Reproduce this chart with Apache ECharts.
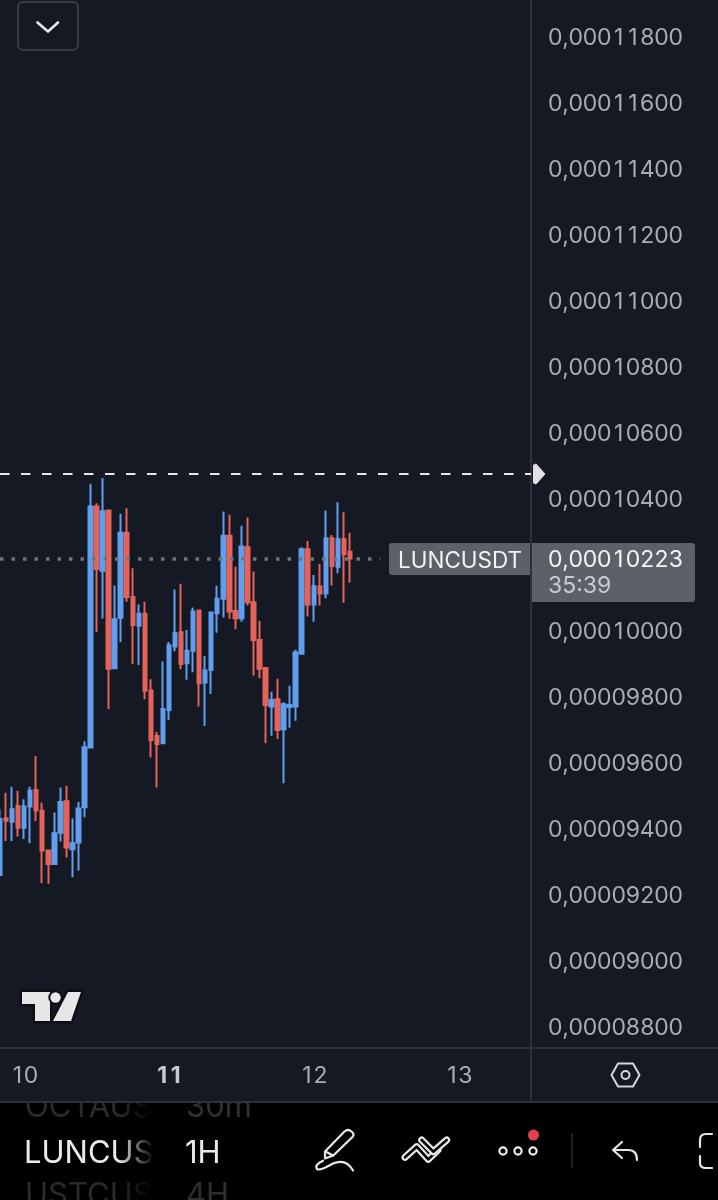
<!DOCTYPE html>
<html><head><meta charset="utf-8">
<style>html,body{margin:0;padding:0;background:#151924;overflow:hidden}#c{width:718px;height:1200px}</style>
<script src="https://cdn.jsdelivr.net/npm/echarts@6/dist/echarts.min.js"></script>
</head><body><div id="c"></div>
<script>
// prices in units of 0.00000001 USDT
var opens=[9264,9436,9425,9473,9407,9471,9521,9458,9338,9297,9392,9487,9342,9362,9469,9650,10380,10186,10368,9890,10043,10301,10106,10019,10055,9823,9685,9663,9764,9956,9999,9905,9943,10065,9847,9885,10057,10101,10292,10064,10042,10257,10090,9976,9891,9774,9796,9705,9773,9774,9934,10251,10083,10138,10117,10284,10198,10281,10243];
var closes=[9433,9428,9463,9407,9471,9519,9459,9338,9297,9390,9485,9347,9360,9465,9651,10380,10191,10366,9889,10039,10301,10106,10021,10055,9822,9673,9661,9767,9960,9996,9903,9943,10062,9845,9883,10059,10101,10292,10062,10042,10259,10090,9976,9889,9779,9794,9703,9781,9779,9938,10251,10083,10139,10117,10284,10200,10281,10236,10223];
var lows=[9260,9367,9367,9380,9373,9360,9427,9239,9237,9297,9365,9317,9257,9277,9439,9650,10000,10041,9767,9890,9970,10092,9903,9900,9796,9620,9529,9663,9733,9942,9887,9855,9878,9774,9715,9812,9998,10044,10040,10008,10031,10080,9868,9860,9663,9686,9676,9542,9710,9731,9934,10047,10031,10080,10102,10141,10178,10089,10149];
var highs=[9463,9513,9531,9519,9493,9531,9624,9483,9338,9453,9529,9534,9435,9485,9669,10449,10390,10467,10368,10141,10358,10375,10193,10083,10092,9857,9698,9911,9970,10129,10146,10006,10074,10067,9927,10060,10140,10365,10355,10198,10322,10347,10183,10034,9891,9819,9858,9787,9837,9946,10257,10276,10173,10206,10368,10294,10393,10363,10301];
var priceTicks=[11800,11600,11400,11200,11000,10800,10600,10400,10200,10000,9800,9600,9400,9200,9000,8800];
var dayLabels=['10','11','12','13'];
var dayIndexes=[4,28,52,76];
var currentPrice=10223;
var highLine=10479;

var BG='#151924',BLUE='#619fee',RED='#e4635b',GRID='#2c303b',TXT='#a8acb6',TAG='#5d6068';
var FONT='Inter, "Noto Sans", sans-serif';
var cats=[];
for(var i=0;i<89;i++){var k=dayIndexes.indexOf(i);cats.push(k>=0?dayLabels[k]:'');}
var candles=opens.map(function(o,i){return [o,closes[i],lows[i],highs[i]];});
function fmt(v){return '0,'+String(Math.round(v)).padStart(8,'0');}
function tab(s,d,c){return s.split('').map(function(ch){return ch===','?'{'+c+'|,}':'{'+d+'|'+ch+'}';}).join('');}
function digitRich(size,color,w,cw){return {
 d:{fontFamily:FONT,fontSize:size,color:color,fill:color,width:w,align:'center'},
 c:{fontFamily:FONT,fontSize:size,color:color,fill:color,width:cw,align:'center'}};}

function line(x1,y1,x2,y2,c,w){return {type:'line',shape:{x1:x1,y1:y1,x2:x2,y2:y2},style:{stroke:c,lineWidth:w||2},silent:true,z:50};}
function txt(t,x,y,size,c,z){return {type:'text',x:x,y:y,z:z||60,silent:true,style:{text:t,font:size+'px '+FONT,fill:c,verticalAlign:'middle'}};}
var pathCount=0;
function path(d,c,w,z){var name='iconPath'+(pathCount++);
 echarts.graphic.registerShape(name,echarts.graphic.extendPath(d,{}));
 return {type:name,z:z||70,silent:true,style:{stroke:c,lineWidth:w||2,fill:null,lineCap:'round',lineJoin:'round'}};}

var zigA='M405 1157.3 L416.7 1146.7 L428.3 1159.3 L438 1150';
var zigB='M421.7 1140 L433.3 1151.7 L446.7 1140';
var graphics=[
 // bottom toolbar
 {type:'rect',shape:{x:0,y:1102,width:718,height:98},style:{fill:'#000'},z:40,silent:true},
 txt('OCTAUS',25,1108,31,'#2b2b2d',41),txt('30m',186,1108,31,'#303032',41),
 txt('USTCUS',25,1196,31,'#2b2b2d',41),txt('4H',186,1196,31,'#303032',41),
 txt('LUNCUS',24,1154,31,'#ececec',41),txt('1H',185,1154,31,'#ececec',41),
 {type:'rect',shape:{x:118,y:1102,width:36,height:98},z:42,silent:true,style:{fill:new echarts.graphic.LinearGradient(0,0,1,0,[{offset:0,color:'rgba(0,0,0,0)'},{offset:1,color:'rgba(0,0,0,1)'}])}},
 {type:'rect',shape:{x:0,y:1049,width:718,height:53},style:{fill:BG},z:43,silent:true},
 line(0,1048,718,1048,GRID,2),line(0,1102,718,1102,GRID,2),line(531,1048,531,1102,GRID,2),
 // settings hexagon
 path('M611.5 1075 L618 1063.5 L633 1063.5 L639.5 1075 L633 1086.5 L618 1086.5 Z','#d4d6dc',2),
 {type:'circle',shape:{cx:625.5,cy:1075,r:4},z:70,silent:true,style:{stroke:'#d4d6dc',lineWidth:2,fill:null}},
 // tools
 path('M344.5 1131.5 Q348 1128.5 351.5 1131.5 Q355 1134.5 352.5 1137 L333.3 1155.5 L325 1158.5 L325 1151.5 Z M325.5 1151.5 L333 1155.5','#e8e8e8',2.2),
 path('M323 1160.7 Q314 1165 317 1169 Q320 1171 333 1163.5 Q346 1158 353 1170.5','#e8e8e8',2.2),
 path(zigA,'#e8e8e8',7),path(zigA,'#000',2.6),
 path(zigB,'#e8e8e8',7),path(zigB,'#000',2.6),
 {type:'circle',shape:{cx:503,cy:1151,r:3.6},z:70,silent:true,style:{stroke:'#ececec',lineWidth:2.2,fill:null}},
 {type:'circle',shape:{cx:518,cy:1151,r:3.6},z:70,silent:true,style:{stroke:'#ececec',lineWidth:2.2,fill:null}},
 {type:'circle',shape:{cx:533,cy:1151,r:3.6},z:70,silent:true,style:{stroke:'#ececec',lineWidth:2.2,fill:null}},
 {type:'circle',shape:{cx:533.5,cy:1135,r:5.5},z:70,silent:true,style:{fill:'#e5404f'}},
 line(572,1133,572,1168,'#2a2a2a',1.5),
 path('M622 1142 L613 1150 L622 1158 M613 1150 L628 1150 Q637 1150 637 1160','#e4e4e4',2.2),
 path('M712 1134 L706 1134 Q700 1134 700 1140 L700 1147 M700 1156 L700 1163 Q700 1168 706 1168 L712 1168','#e4e4e4',2.2),
 // logo
 {type:'polygon',shape:{points:[[22,992],[50,992],[50,1021],[35,1021],[35,1004],[22,1004]]},z:60,silent:true,style:{fill:'#e6e6e6',stroke:'#0c0e14',lineWidth:5,strokeFirst:true}},
 {type:'circle',shape:{cx:55.5,cy:997.5,r:5.2},z:60,silent:true,style:{fill:'#e6e6e6',stroke:'#0c0e14',lineWidth:4,strokeFirst:true}},
 {type:'polygon',shape:{points:[[68,992],[81,992],[71,1021],[53,1021]]},z:60,silent:true,style:{fill:'#e6e6e6',stroke:'#0c0e14',lineWidth:5,strokeFirst:true}},
 // dropdown
 {type:'rect',shape:{x:18,y:2,width:60,height:48,r:5},z:60,silent:true,style:{fill:BG,stroke:'#383c47',lineWidth:2}},
 path('M37.5 22.5 L48 31.5 L58 22.5','#e8e8e8',2.6),
 // price tags
 {type:'rect',shape:{x:389,y:543,width:141,height:32,r:[3,0,0,3]},z:55,silent:true,style:{fill:TAG}},
 {type:'rect',shape:{x:532,y:543,width:163,height:59,r:[0,3,3,0]},z:55,silent:true,style:{fill:TAG}},
 txt('LUNCUSDT',398,561.5,22.5,'#f2f2f2'),
 {type:'text',x:548,y:560,z:60,silent:true,style:{text:tab(fmt(currentPrice),'d','c'),verticalAlign:'middle',rich:digitRich(23,'#f4f4f4',14.3,6.3)}},
 txt('35:39',548,586,23,'#c9cbd0'),
 // high-price pointer
 {type:'polygon',shape:{points:[[533.5,465],[536,464],[545,474],[536,484],[533.5,483]]},z:55,silent:true,style:{fill:'#e2e2e2',stroke:'#e2e2e2',lineWidth:1,lineJoin:'round'}}
];

var xRich=digitRich(23,TXT,13.5,6);
xRich.b={fontFamily:FONT,fontSize:23,fontWeight:'bold',color:'#c8cad0',width:13.5,align:'center'};
var chart=echarts.init(document.getElementById('c'),null,{renderer:'canvas',width:718,height:1200});
chart.setOption({
 backgroundColor:BG,animation:false,tooltip:{show:false},
 grid:{left:0,top:0,width:531,height:1048,containLabel:false},
 xAxis:{type:'category',data:cats,boundaryGap:false,z:80,
  axisLine:{show:false},axisTick:{show:false},splitLine:{show:false},
  axisLabel:{interval:function(i){return dayIndexes.indexOf(i)>=0;},margin:17,
   formatter:function(v){return tab(v,v==='11'?'b':'d','c');},
   rich:xRich,hideOverlap:false,showMinLabel:true,showMaxLabel:true}},
 yAxis:{type:'value',position:'right',min:8739.4,max:11915.2,scale:true,
  splitLine:{show:false},axisTick:{show:false},
  axisLine:{show:true,lineStyle:{color:GRID,width:2}},
  axisLabel:{margin:17,customValues:priceTicks,rich:digitRich(23,TXT,14.3,6.3),
   formatter:function(v){return tab(fmt(v),'d','c');}}},
 series:[{type:'candlestick',data:candles,barWidth:4,clip:true,z:5,
  itemStyle:{color:BLUE,color0:RED,borderColor:BLUE,borderColor0:RED,borderWidth:2},
  markLine:{silent:true,symbol:'none',animation:false,label:{show:false},z:6,
   data:[
    [{coord:[0,highLine],lineStyle:{color:'#e6e6e6',width:2,type:[9.5,11.5]}},{coord:[88,highLine]}],
    [{coord:[0,currentPrice],lineStyle:{color:'#70737c',width:3.5,type:[3.5,8]}},{coord:[63,currentPrice]}]
   ]}
 }],
 graphic:{elements:graphics}
});
</script></body></html>
